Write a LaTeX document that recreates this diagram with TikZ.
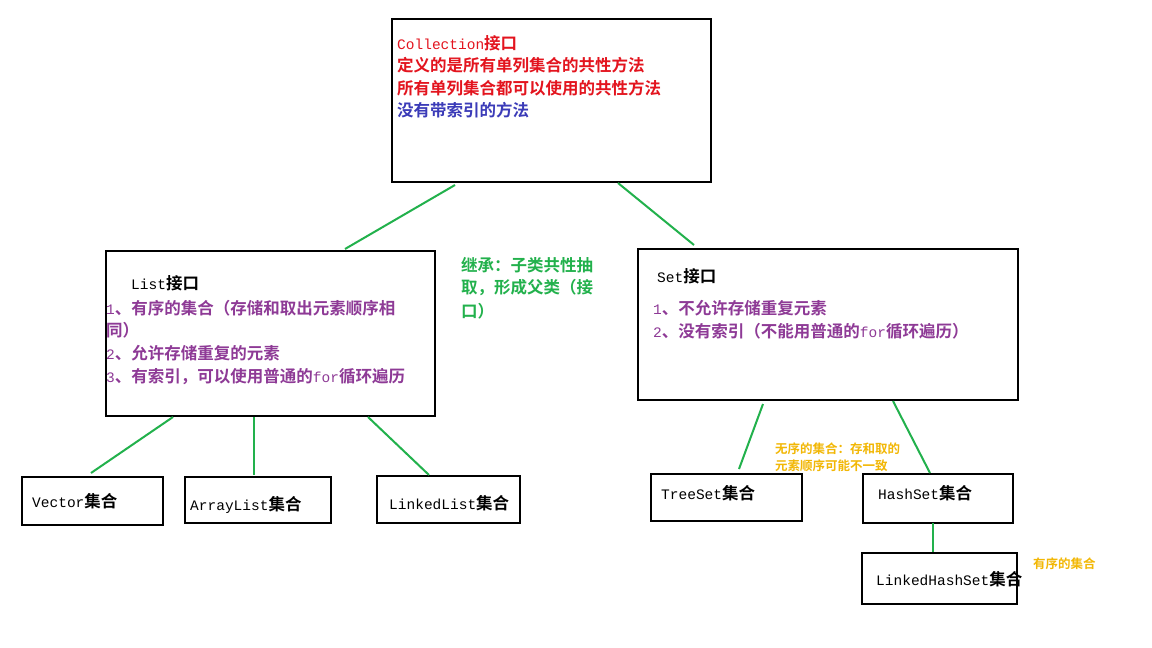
\documentclass[tikz,border=0pt]{standalone}
\usepackage{fontspec}
\setmainfont{Noto Sans CJK SC Bold}
\newfontfamily\lat{Liberation Mono}
\definecolor{cred}{HTML}{E3141E}
\definecolor{cblue}{HTML}{3B3BB8}
\definecolor{cpurp}{HTML}{8E3A96}
\definecolor{cgreen}{HTML}{22B14C}
\definecolor{corange}{HTML}{F2B705}
\newcommand{\Lt}[1]{{\lat\fontsize{14.5}{18}\selectfont #1}}
\tikzset{x=1pt,y=-1pt,
 box/.style={draw,line width=2pt},
 txt/.style={anchor=west,inner sep=0pt,font=\fontsize{16.5}{20}\selectfont},
 small/.style={anchor=west,inner sep=0pt,font=\fontsize{12.5}{15}\selectfont,text=corange},
 link/.style={draw=cgreen,line width=2pt}}
\begin{document}
\begin{tikzpicture}
\useasboundingbox[fill=white] (0,0) rectangle (1152,648);
\node[box,minimum width=319,minimum height=163,anchor=north west] (coll) at (391,18) {};
\node[txt,text=cred] (c1) at (397,43) {\Lt{Collection}接口};
\node[txt,text=cred] (c2) at (397,65) {定义的是所有单列集合的共性方法};
\node[txt,text=cred] (c3) at (397,88) {所有单列集合都可以使用的共性方法};
\node[txt,text=cblue] (c4) at (397,110) {没有带索引的方法};

\node[box,minimum width=329,minimum height=165,anchor=north west] (list) at (105,250) {};
\node[txt] (l0) at (131,283) {\Lt{List}接口};
\node[txt,text=cpurp] (l1) at (106,308) {\Lt{1}、有序的集合（存储和取出元素顺序相};
\node[txt,text=cpurp] (l1b) at (106,330) {同）};
\node[txt,text=cpurp] (l2) at (106,353) {\Lt{2}、允许存储重复的元素};
\node[txt,text=cpurp] (l3) at (106,377) {\Lt{3}、有索引，可以使用普通的\Lt{for}循环遍历};

\node[box,minimum width=380,minimum height=151,anchor=north west] (set) at (637,248) {};
\node[txt] (s0) at (657,276) {\Lt{Set}接口};
\node[txt,text=cpurp] (s1) at (653,308) {\Lt{1}、不允许存储重复元素};
\node[txt,text=cpurp] (s2) at (653,331) {\Lt{2}、没有索引（不能用普通的\Lt{for}循环遍历）};

\node[txt,text=cgreen] (g1) at (461,265) {继承：子类共性抽};
\node[txt,text=cgreen] (g2) at (461,288) {取，形成父类（接};
\node[txt,text=cgreen] (g3) at (461,311) {口）};

\node[box,minimum width=141,minimum height=48,anchor=north west] (vec) at (21,476) {};
\node[txt] (vt) at (32,501) {\Lt{Vector}集合};
\node[box,minimum width=146,minimum height=46,anchor=north west] (arr) at (184,476) {};
\node[txt] (at) at (190,505) {\Lt{ArrayList}集合};
\node[box,minimum width=143,minimum height=47,anchor=north west] (lnk) at (376,475) {};
\node[txt] (lt) at (389,503) {\Lt{LinkedList}集合};
\node[box,minimum width=151,minimum height=47,anchor=north west] (tree) at (650,473) {};
\node[txt] (tt) at (661,493) {\Lt{TreeSet}集合};
\node[box,minimum width=150,minimum height=49,anchor=north west] (hash) at (862,473) {};
\node[txt] (ht) at (878,493) {\Lt{HashSet}集合};
\node[box,minimum width=155,minimum height=51,anchor=north west] (lhs) at (861,552) {};
\node[txt] (lht) at (876,579) {\Lt{LinkedHashSet}集合};

\node[small] (o1) at (775,449) {无序的集合：存和取的};
\node[small] (o2) at (775,466) {元素顺序可能不一致};
\node[small] (o3) at (1033,564) {有序的集合};

\coordinate (a1) at (455,185); \coordinate (a2) at (345,249);
\coordinate (b1) at (618,183); \coordinate (b2) at (694,245);
\coordinate (v1) at (173,417); \coordinate (v2) at (91,473);
\coordinate (r1) at (254,417); \coordinate (r2) at (254,475);
\coordinate (k1) at (368,417); \coordinate (k2) at (429,475);
\coordinate (t1) at (763,404); \coordinate (t2) at (739,469);
\coordinate (h1) at (893,401); \coordinate (h2) at (930,473);
\coordinate (x1) at (933,523); \coordinate (x2) at (933,552);
\draw[link] (a1)--(a2); \draw[link] (b1)--(b2);
\draw[link] (v1)--(v2); \draw[link] (r1)--(r2); \draw[link] (k1)--(k2);
\draw[link] (t1)--(t2); \draw[link] (h1)--(h2); \draw[link] (x1)--(x2);
\end{tikzpicture}
\end{document}
